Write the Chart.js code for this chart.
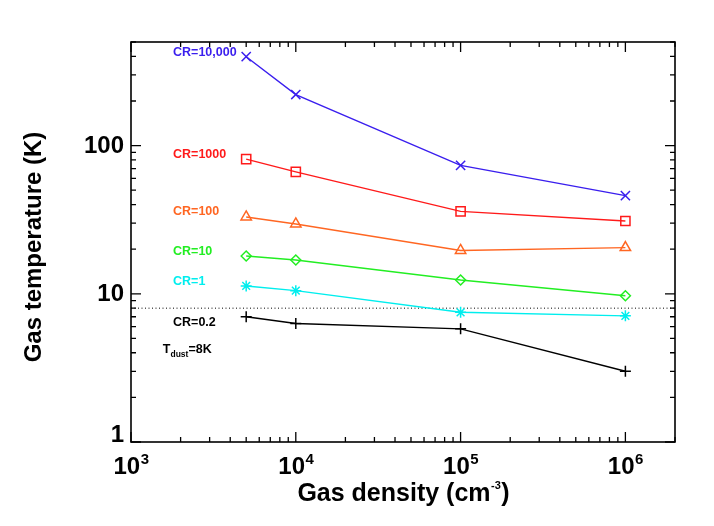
<!DOCTYPE html>
<html><head><meta charset="utf-8">
<script src="https://cdn.jsdelivr.net/npm/chart.js@4"></script>
<style>html,body{margin:0;padding:0;background:#fff}#wrap{width:714px;height:526px;position:relative}</style>
</head><body><div id="wrap"><canvas id="c"></canvas></div>
<script>
// ---- data ----
const densities = [5e3, 1e4, 1e5, 1e6];
const crLabels = ['CR=10,000', 'CR=1000', 'CR=100', 'CR=10', 'CR=1', 'CR=0.2'];
const tempCR10000 = [398, 221, 73.5, 46];
const tempCR1000 = [81, 66.4, 36, 31];
const tempCR100 = [33, 29.6, 19.6, 20.5];
const tempCR10 = [18, 16.9, 12.4, 9.7];
const tempCR1 = [11.3, 10.5, 7.5, 7.1];
const tempCR02 = [7.0, 6.3, 5.8, 3.0];
const dustTemp = 8;
const xTickValues = [1e3, 1e4, 1e5, 1e6];
const xTickExponents = ['3', '4', '5', '6'];
const yTickValues = [1, 10, 100];
const yTickLabels = ['1', '10', '100'];
const labelX = 1800;
const labelY = [425, 87, 35.8, 19.2, 12.05, 6.37];
const dustLabelPos = [1560, 4.19];

// ---- styles ----
const FONT = '"Liberation Sans", Arial, Helvetica, sans-serif';
const colors = ['#3a1eee', '#ff1a1a', '#ff6622', '#22ee22', '#00eeee', '#000000'];
const markers = ['crossRot', 'rect', 'triangle', 'rectRot', 'star', 'cross'];
const radii = [6.5, 6.5, 6, 5, 5.5, 5.5];
const series = [tempCR10000, tempCR1000, tempCR100, tempCR10, tempCR1, tempCR02];

const datasets = series.map((vals, i) => ({
  label: crLabels[i],
  data: densities.map((d, j) => ({x: d, y: vals[j]})),
  borderColor: colors[i],
  backgroundColor: 'rgba(0,0,0,0)',
  pointBorderColor: colors[i],
  pointBackgroundColor: 'rgba(0,0,0,0)',
  pointStyle: markers[i],
  pointRadius: radii[i],
  pointBorderWidth: 1.5,
  borderWidth: 1.4,
  tension: 0,
  fill: false
}));
const xMin = 1e3, xMax = 2e6, yMin = 1, yMax = 500;
datasets.push({
  label: 'Tdust',
  data: [{x: xMin, y: dustTemp}, {x: xMax, y: dustTemp}],
  borderColor: '#000',
  borderWidth: 1,
  borderDash: [1, 2.5],
  pointRadius: 0,
  fill: false
});

const axesPlugin = {
  id: 'idlAxes',
  afterDraw(chart) {
    const ctx = chart.ctx;
    const a = chart.chartArea;
    const xs = chart.scales.x, ys = chart.scales.y;
    ctx.save();
    ctx.strokeStyle = '#000';
    ctx.fillStyle = '#000';
    // frame
    ctx.lineWidth = 1.6;
    ctx.strokeRect(a.left, a.top, a.right - a.left, a.bottom - a.top);
    ctx.lineWidth = 1.3;
    const MAJ = 10, MIN = 5;
    // x ticks
    for (let e = 3; e <= 6; e++) {
      for (let m = 1; m <= 9; m++) {
        const v = m * Math.pow(10, e);
        if (v < xMin || v > xMax) continue;
        const px = xs.getPixelForValue(v);
        const len = m === 1 ? MAJ : MIN;
        ctx.beginPath();
        ctx.moveTo(px, a.bottom); ctx.lineTo(px, a.bottom - len);
        ctx.moveTo(px, a.top); ctx.lineTo(px, a.top + len);
        ctx.stroke();
      }
    }
    // y ticks
    for (let e = 0; e <= 2; e++) {
      for (let m = 1; m <= 9; m++) {
        const v = m * Math.pow(10, e);
        if (v < yMin || v > yMax) continue;
        const py = ys.getPixelForValue(v);
        const len = m === 1 ? MAJ : MIN;
        ctx.beginPath();
        ctx.moveTo(a.left, py); ctx.lineTo(a.left + len, py);
        ctx.moveTo(a.right, py); ctx.lineTo(a.right - len, py);
        ctx.stroke();
      }
    }
    // y tick labels
    ctx.font = 'bold 24px ' + FONT;
    ctx.textAlign = 'right';
    ctx.textBaseline = 'middle';
    yTickValues.forEach((v, i) => {
      let py = ys.getPixelForValue(v);
      py = Math.min(py, a.bottom - 8);
      ctx.fillText(yTickLabels[i], a.left - 7, py + 1);
    });
    // x tick labels with superscript exponents
    xTickValues.forEach((v, i) => {
      const px = xs.getPixelForValue(v);
      ctx.font = 'bold 24px ' + FONT;
      const w1 = ctx.measureText('10').width;
      ctx.font = 'bold 15px ' + FONT;
      const w2 = ctx.measureText(xTickExponents[i]).width;
      const x0 = px - (w1 + w2) / 2;
      ctx.textAlign = 'left';
      ctx.textBaseline = 'alphabetic';
      ctx.font = 'bold 24px ' + FONT;
      ctx.fillText('10', x0, a.bottom + 32);
      ctx.font = 'bold 15px ' + FONT;
      ctx.fillText(xTickExponents[i], x0 + w1 + 0.5, a.bottom + 22);
    });
    // x title
    ctx.font = 'bold 25px ' + FONT;
    const t1 = 'Gas density (cm';
    const wT1 = ctx.measureText(t1).width;
    ctx.font = 'bold 11px ' + FONT;
    const wSup = ctx.measureText('-3').width;
    ctx.font = 'bold 25px ' + FONT;
    const wT2 = ctx.measureText(')').width;
    const tot = wT1 + wSup + wT2;
    let tx = (a.left + a.right) / 2 - tot / 2;
    const ty = 501;
    ctx.textAlign = 'left';
    ctx.fillText(t1, tx, ty);
    ctx.font = 'bold 11px ' + FONT;
    ctx.fillText('-3', tx + wT1 + 0.5, ty - 12);
    ctx.font = 'bold 25px ' + FONT;
    ctx.fillText(')', tx + wT1 + wSup + 1, ty);
    // y title
    ctx.save();
    ctx.translate(34, 247);
    ctx.rotate(-Math.PI / 2);
    ctx.font = 'bold 24px ' + FONT;
    ctx.textAlign = 'center';
    ctx.textBaseline = 'middle';
    ctx.fillText('Gas temperature (K)', 0, 0);
    ctx.restore();
    // series labels
    ctx.font = 'bold 12.5px ' + FONT;
    ctx.textAlign = 'left';
    ctx.textBaseline = 'middle';
    crLabels.forEach((lab, i) => {
      ctx.fillStyle = colors[i];
      ctx.fillText(lab, xs.getPixelForValue(labelX), ys.getPixelForValue(labelY[i]));
    });
    // T_dust label
    ctx.fillStyle = '#000';
    let dx = xs.getPixelForValue(dustLabelPos[0]);
    const dy = ys.getPixelForValue(dustLabelPos[1]);
    ctx.font = 'bold 12.5px ' + FONT;
    ctx.fillText('T', dx, dy);
    dx += ctx.measureText('T').width;
    ctx.font = 'bold 8.5px ' + FONT;
    ctx.fillText('dust', dx, dy + 5);
    dx += ctx.measureText('dust').width;
    ctx.font = 'bold 12.5px ' + FONT;
    ctx.fillText('=8K', dx, dy);
    ctx.restore();
  }
};

new Chart(document.getElementById('c'), {
  type: 'line',
  data: {datasets},
  options: {
    responsive: true,
    maintainAspectRatio: false,
    animation: false,
    devicePixelRatio: 1,
    layout: {padding: {left: 131, right: 39, top: 42, bottom: 84}},
    plugins: {legend: {display: false}, tooltip: {enabled: false}},
    scales: {
      x: {type: 'logarithmic', min: xMin, max: xMax, display: false},
      y: {type: 'logarithmic', min: yMin, max: yMax, display: false}
    }
  },
  plugins: [axesPlugin]
});
</script>
</body></html>
